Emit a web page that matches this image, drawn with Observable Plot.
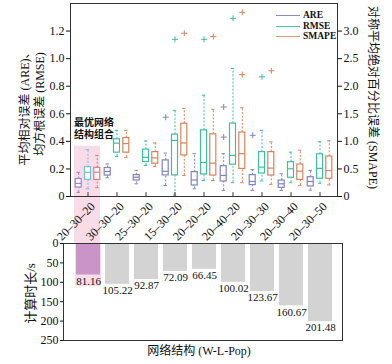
<!DOCTYPE html>
<html><head><meta charset="utf-8">
<script src="https://cdn.jsdelivr.net/npm/d3@7"></script>
<script src="https://cdn.jsdelivr.net/npm/@observablehq/plot@0.6"></script>
<style>
body{margin:0;background:#fff;}
#wrap{position:relative;width:392px;height:364px;overflow:hidden;}
#wrap svg{display:block;overflow:visible;}
.lgl{position:absolute;width:24px;height:0;border-top:1px solid;}
.lgt{position:absolute;font:bold 9.5px "Liberation Serif",serif;color:#111;line-height:12px;}
</style></head><body><div id="wrap"></div>
<script>
// ---- data ----
const categories = ["20–30–20","30–30–20","25–30–20","15–30–20","20–20–20","20–40–20","20–30–30","20–30–40","20–30–50"];
const seriesNames = ["ARE","RMSE","SMAPE"];
// [min, q1, median, q3, max]
const ARE = [
  [0.03,0.065,0.095,0.127,0.175],
  [0.136,0.152,0.182,0.207,0.236],
  [0.092,0.116,0.14,0.155,0.189],
  [0.08,0.153,0.183,0.262,0.315],
  [0.056,0.08,0.12,0.177,0.31],
  [0.044,0.109,0.153,0.22,0.31],
  [0.044,0.083,0.109,0.155,0.196],
  [0.044,0.063,0.092,0.116,0.165],
  [0.046,0.073,0.109,0.14,0.189]
];
const RMSE = [
  [0.056,0.121,0.175,0.213,0.34],
  [0.29,0.318,0.387,0.415,0.48],
  [0.225,0.25,0.284,0.34,0.402],
  [0.01,0.153,0.407,0.449,0.625],
  [0.116,0.16,0.247,0.48,0.735],
  [0.1,0.231,0.298,0.529,0.929],
  [0.113,0.167,0.213,0.322,0.48],
  [0.1,0.136,0.201,0.249,0.322],
  [0.096,0.129,0.204,0.306,0.397]
];
const SMAPE = [
  [0.16,0.30,0.44,0.52,0.745],
  [0.71,0.795,0.96,1.06,1.2],
  [0.545,0.595,0.70,0.805,0.97],
  [0.38,0.745,0.97,1.32,1.595],
  [0.29,0.38,0.605,1.127,1.58],
  [0.25,0.50,0.776,1.16,1.61],
  [0.22,0.38,0.515,0.805,0.99],
  [0.20,0.30,0.46,0.58,0.84],
  [0.21,0.32,0.47,0.725,1.01]
];
// outliers: [category index, value]
const areOutliers = [[3,0.575],[5,0.431],[5,0.649],[6,0.444]];
const rmseOutliers = [[3,1.14],[4,1.14],[5,1.292],[6,0.868]];
const smapeOutliers = [[3,2.96],[4,2.9],[5,2.21],[5,3.34],[6,2.28]];
const times = [81.16,105.22,92.87,72.09,66.45,100.02,123.67,160.67,201.48];
const leftTicks = [0,0.2,0.4,0.6,0.8,1.0,1.2];
const smapeTicks = [0,0.5,1.0,1.5,2.0,2.5,3.0];
const timeTicks = [0,50,100,150,200,250];
const note = [{t:"最优网络", y:0.535},{t:"结构组合", y:0.45}];

// ---- styles ----
const K = 2.5; // SMAPE axis = 2.5 x left axis
const font = '"Liberation Serif","Noto Sans CJK SC",serif';
const colorOf = {ARE:"#8183bf", RMSE:"#3fbf9f", SMAPE:"#d8845a"};
const hiColorOf = {ARE:"#9c86c4", RMSE:"#74c0da", SMAPE:"#e07b78"};
const dxOf = {ARE:-9.3, RMSE:0, SMAPE:9.3};
const best = categories[0];
const strokeFn = d => d.cat === best ? hiColorOf[d.s] : colorOf[d.s];

const statsOf = {ARE, RMSE, SMAPE};
const scaleOf = {ARE:1, RMSE:1, SMAPE:K};
const outOf = {ARE:areOutliers, RMSE:rmseOutliers, SMAPE:smapeOutliers};

const marks = [];
marks.push(Plot.barY([best], {x:d=>d, y1:0.365, y2:-0.334, fill:"#f9dce8", insetLeft:1, insetRight:2}));
for (const s of seriesNames) {
  const k = scaleOf[s];
  const rows = statsOf[s].map((st,i)=>({cat:categories[i], s, min:st[0]/k, q1:st[1]/k, med:st[2]/k, q3:st[3]/k, max:st[4]/k}));
  const outs = outOf[s].map(([i,v])=>({cat:categories[i], s, v:v/k}));
  const dx = dxOf[s];
  marks.push(
    Plot.ruleX(rows, {x:"cat", y1:"min", y2:"q1", stroke:strokeFn, strokeWidth:1, strokeDasharray:"2,1.6", dx}),
    Plot.ruleX(rows, {x:"cat", y1:"q3", y2:"max", stroke:strokeFn, strokeWidth:1, strokeDasharray:"2,1.6", dx}),
    Plot.tickY(rows, {x:"cat", y:"min", stroke:strokeFn, strokeWidth:1, insetLeft:12.8, insetRight:12.8, dx}),
    Plot.tickY(rows, {x:"cat", y:"max", stroke:strokeFn, strokeWidth:1, insetLeft:12.8, insetRight:12.8, dx}),
    Plot.barY(rows, {x:"cat", y1:"q1", y2:"q3", fill:"white", stroke:strokeFn, strokeWidth:1.2, insetLeft:11.5, insetRight:11.5, dx}),
    Plot.tickY(rows, {x:"cat", y:"med", stroke:strokeFn, strokeWidth:1.2, insetLeft:11.5, insetRight:11.5, dx}),
    Plot.dot(outs, {x:"cat", y:"v", symbol:"plus", r:2.1, stroke:strokeFn, strokeWidth:1, dx})
  );
}
marks.push(
  Plot.ruleX(categories, {x:d=>d, y1:0, y2:0.028, stroke:"#333", strokeWidth:1}),
  Plot.frame({stroke:"#333", strokeWidth:1}),
  Plot.axisY({anchor:"left", ticks:leftTicks, tickSize:4, tickPadding:2, label:null, fontSize:12,
    tickFormat:d=> d===0 ? "0" : d.toFixed(1)}),
  Plot.axisY({anchor:"right", ticks:smapeTicks.map(v=>v/K), tickSize:4, tickPadding:2, label:null, fontSize:12,
    tickFormat:d=> d===0 ? "0" : (d*K).toFixed(1)}),
  Plot.text(categories, {x:d=>d, frameAnchor:"bottom", text:d=>d, rotate:-45, textAnchor:"end", lineAnchor:"middle", dx:5, dy:8, fontSize:12, fill:"#111"}),
  Plot.text(note, {x:()=>best, y:"y", text:"t", textAnchor:"start", dx:-14, fontSize:10, fontWeight:"bold", fill:"#111"}),
  Plot.text(["平均相对误差 (ARE)、"], {frameAnchor:"left", textAnchor:"middle", lineAnchor:"middle", rotate:-90, dx:-45, dy:6, fontSize:12, fill:"#111"}),
  Plot.text(["均方根误差 (RMSE)"], {frameAnchor:"left", textAnchor:"middle", lineAnchor:"middle", rotate:-90, dx:-30, dy:4, fontSize:12, fill:"#111"}),
  Plot.text(["对称平均绝对百分比误差 (SMAPE)"], {frameAnchor:"right", textAnchor:"middle", lineAnchor:"middle", rotate:90, dx:35, dy:-2.5, fontSize:12, fill:"#111"})
);

const topChart = Plot.plot({
  width:392, height:242,
  marginTop:3, marginBottom:46, marginLeft:70, marginRight:55,
  style:{fontFamily:font, fontSize:"12px", color:"#111", background:"transparent", overflow:"visible"},
  x:{domain:categories, padding:0, axis:null},
  y:{domain:[0,1.4], axis:null},
  marks
});

const bottomChart = Plot.plot({
  width:392, height:122,
  marginTop:1, marginBottom:24, marginLeft:63, marginRight:50,
  style:{fontFamily:font, fontSize:"12px", color:"#111", background:"transparent", overflow:"visible"},
  x:{domain:categories, paddingInner:0.175, paddingOuter:0.0875, insetLeft:6.3, insetRight:3.3, axis:null},
  y:{domain:[0,250], reverse:true, axis:null},
  marks:[
    Plot.barY([best], {x:d=>d, y1:-3, y2:111, fill:"#f9dce8", insetLeft:-1, insetRight:-1}),
    Plot.barY(times, {x:(d,i)=>categories[i], y:d=>d, fill:(d,i)=> i===0 ? "#c994c7" : "#d3d3d3"}),
    Plot.text(times, {x:(d,i)=>categories[i], y:d=>d, text:d=>d.toFixed(2), lineAnchor:"top", dy:2, fontSize:11, fill:"#111"}),
    Plot.frame({stroke:"#333", strokeWidth:1}),
    Plot.axisY({anchor:"left", ticks:timeTicks, tickSize:3, tickPadding:2, label:null, fontSize:12}),
    Plot.text(["计算时长/s"], {frameAnchor:"left", textAnchor:"middle", lineAnchor:"middle", rotate:-90, dx:-33, dy:1.5, fontSize:13, fill:"#111"}),
    Plot.text(["网络结构 (W-L-Pop)"], {frameAnchor:"bottom", textAnchor:"middle", lineAnchor:"middle", dx:-4, dy:11, fontSize:12, fill:"#111"})
  ]
});

const wrap = document.getElementById("wrap");
wrap.appendChild(topChart);
wrap.appendChild(bottomChart);

// legend
const lgColors = {ARE:"#8a8cc6", RMSE:"#52c6ac", SMAPE:"#e29a78"};
seriesNames.forEach((s,i)=>{
  const y = 15 + i*10.5;
  const l = document.createElement("div");
  l.className = "lgl"; l.style.left = "276px"; l.style.top = y + "px"; l.style.borderTopColor = lgColors[s];
  const t = document.createElement("div");
  t.className = "lgt"; t.style.left = "303px"; t.style.top = (y-6) + "px"; t.textContent = s;
  wrap.appendChild(l); wrap.appendChild(t);
});
</script></body></html>
